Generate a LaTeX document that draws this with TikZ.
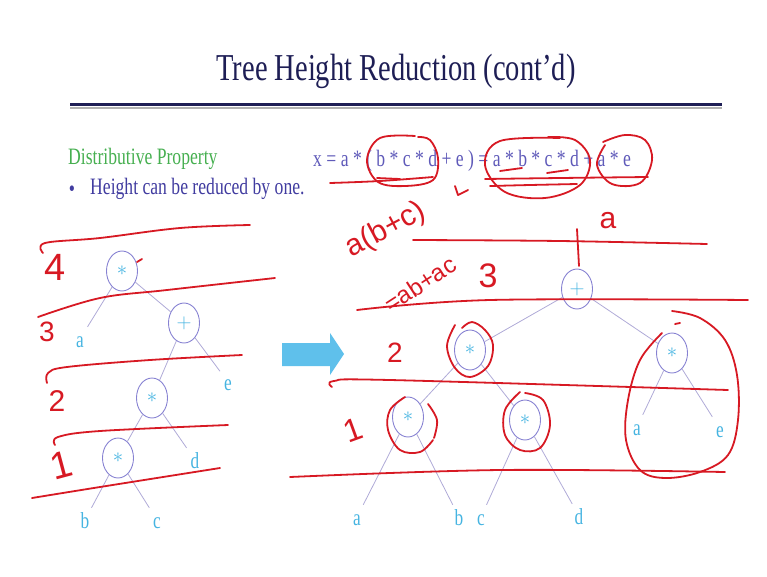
\documentclass[tikz,border=0pt]{standalone}
\usepackage{fontspec}
\setmainfont[FakeStretch=0.75]{Liberation Serif}
\newfontfamily\scrawlfont{Liberation Sans}
\usepackage{xcolor}
\usetikzlibrary{shapes.geometric, positioning, calc}

\definecolor{titlenavy}{RGB}{30,30,85}
\definecolor{slidegreen}{RGB}{70,175,80}
\definecolor{textblue}{RGB}{65,60,160}
\definecolor{eqblue}{RGB}{95,90,185}
\definecolor{leafcyan}{RGB}{70,180,225}
\definecolor{ringlav}{RGB}{135,130,210}
\definecolor{edgelav}{RGB}{175,170,215}
\definecolor{inkred}{RGB}{215,25,35}
\definecolor{arrowsky}{RGB}{95,192,235}

\begin{document}
\begin{tikzpicture}[
  x=1pt, y=-1pt,
  op/.style={ellipse, draw=ringlav, line width=0.9pt, minimum width=31pt, minimum height=40pt, inner sep=0pt, text=leafcyan, font=\fontsize{20}{20}\selectfont},
  leaf/.style={anchor=base, text=leafcyan, font=\fontsize{23}{23}\selectfont, text height=16pt, text depth=0pt, inner sep=4pt},
  edge/.style={draw=edgelav, line width=0.8pt},
  slide/.style={anchor=west, inner sep=0pt, font=\fontsize{23.5}{23.5}\selectfont},
  ink/.style={draw=inkred, line width=1.8pt, line cap=round, line join=round},
  scrawl/.style={text=inkred, inner sep=0pt, font=\scrawlfont\fontsize{32}{32}\selectfont}
]
  \useasboundingbox (0,0) rectangle (767,576);

  % Title and rule
  \node[text=titlenavy, font=\fontsize{38}{38}\selectfont] (title) at (396,71) {Tree Height Reduction (cont'd)};
  \draw[titlenavy, line width=3pt] (70,104.5) -- (722,104.5);
  \draw[black!30, line width=1.2pt] (70,108) -- (722,108);

  % Slide text
  \node[slide, text=slidegreen] (prop) at (68,159) {Distributive Property};
  \node[slide, text=textblue, anchor=center] (dot) at (72,191) {\textbullet};
  \node[slide, text=textblue] (bullet) at (90,189) {Height can be reduced by one.};
  \node[slide, text=eqblue] (eq) at (313,161) {x = a * ( b * c * d + e ) = a * b * c * d + a * e};

  % Left tree: a*(b*c*d+e)
  \node[op] (ltop) at (122,271) {$\ast$};
  \node[op] (lplus) at (184,323) {$+$};
  \node[op] (lmid) at (152,398) {$\ast$};
  \node[op] (llow) at (118,458) {$\ast$};
  \node[leaf] (la) at (80,347) {a};
  \node[leaf] (le) at (228,390) {e};
  \node[leaf] (ld) at (195,468) {d};
  \node[leaf] (lb) at (85,528) {b};
  \node[leaf] (lc) at (157,528) {c};
  \draw[edge] (ltop) -- (la);
  \draw[edge] (ltop) -- (lplus);
  \draw[edge] (lplus) -- (lmid);
  \draw[edge] (lplus) -- (le);
  \draw[edge] (lmid) -- (llow);
  \draw[edge] (lmid) -- (ld);
  \draw[edge] (llow) -- (lb);
  \draw[edge] (llow) -- (lc);

  % Block arrow
  \fill[arrowsky] (282,343) -- (330,343) -- (330,333) -- (344,354) -- (330,375) -- (330,366) -- (282,366) -- cycle;

  % Right tree: a*b*c*d + a*e
  \node[op] (rplus) at (577,289) {$+$};
  \node[op] (rl) at (470,350) {$\ast$};
  \node[op] (rr) at (672,353) {$\ast$};
  \node[op] (rll) at (408,417) {$\ast$};
  \node[op] (rlr) at (525,420) {$\ast$};
  \node[leaf] (ra) at (357,525) {a};
  \node[leaf] (rb) at (459,525) {b};
  \node[leaf] (rc) at (481,525) {c};
  \node[leaf] (rd) at (579,524) {d};
  \node[leaf] (ra2) at (637,435) {a};
  \node[leaf] (re2) at (720,437) {e};
  \draw[edge] (rplus) -- (rl);
  \draw[edge] (rplus) -- (rr);
  \draw[edge] (rl) -- (rll);
  \draw[edge] (rl) -- (rlr);
  \draw[edge] (rll) -- (ra);
  \draw[edge] (rll) -- (rb);
  \draw[edge] (rlr) -- (rc);
  \draw[edge] (rlr) -- (rd);
  \draw[edge] (rr) -- (ra2);
  \draw[edge] (rr) -- (re2);

  % Red ink: left levels
  \draw[ink] plot[smooth, tension=0.6] coordinates {(43,253) (45,243) (100,238) (180,228) (250,225)};
  \draw[ink] plot[smooth, tension=0.6] coordinates {(38,317) (100,298) (167,290) (275,278)};
  \draw[ink] plot[smooth, tension=0.6] coordinates {(47,383) (48,373) (67,367) (150,360) (242,355)};
  \draw[ink] plot[smooth, tension=0.6] coordinates {(55,445) (58,437) (100,431) (228,425)};
  \draw[ink] plot[smooth, tension=0.6] coordinates {(32,498) (100,487) (220,468)};
  \draw[ink] (137,262) -- (142,259);
  \node[scrawl, font=\scrawlfont\fontsize{38}{38}\selectfont] (lv4) at (55,267) {4};
  \node[scrawl, font=\scrawlfont\fontsize{28}{28}\selectfont] (lv3) at (47,332) {3};
  \node[scrawl, font=\scrawlfont\fontsize{30}{30}\selectfont] (lv2) at (57,401) {2};
  \node[scrawl, font=\scrawlfont\fontsize{38}{38}\selectfont, rotate=15] (lv1) at (61,465) {1};

  % Red ink: equation marks
  \draw[ink] plot[smooth, tension=0.6] coordinates {(415,136) (380,138) (367,160) (378,182) (405,186) (433,180) (438,158) (430,140) (418,137)};
  \draw[ink] plot[smooth, tension=0.6] coordinates {(330,183) (380,181) (433,177)};
  \draw[ink] (377,178) -- (400,179);
  \draw[ink] (455,186) -- (458,195) -- (468,190);
  \draw[ink] plot[smooth, tension=0.6] coordinates {(560,138) (500,141) (485,165) (505,192) (545,198) (580,185) (590,160) (575,140) (548,137)};
  \draw[ink] plot[smooth, tension=0.6] coordinates {(485,179) (560,178) (648,177)};
  \draw[ink] plot[smooth, tension=0.6] coordinates {(490,186) (530,185) (577,184)};
  \draw[ink] (500,171) -- (522,168);
  \draw[ink] (547,173) -- (568,170);
  \draw[ink] plot[smooth, tension=0.6] coordinates {(605,145) (597,165) (612,184) (640,183) (652,160) (645,140) (625,135) (603,142)};

  % Red ink: right levels and circles
  \draw[ink] plot[smooth, tension=0.6] coordinates {(413,240) (560,241) (707,244)};
  \draw[ink] (577,229) -- (579,266);
  \draw[ink] plot[smooth, tension=0.6] coordinates {(357,310) (490,300) (748,300)};
  \draw[ink] plot[smooth, tension=0.6] coordinates {(332,387) (334,381) (390,380) (728,390)};
  \draw[ink] plot[smooth, tension=0.6] coordinates {(290,477) (500,470) (725,472)};
  \draw[ink] plot[smooth, tension=0.6] coordinates {(455,325) (447,346) (455,368) (470,377) (488,366) (493,345) (485,330) (472,322) (462,328)};
  \draw[ink] plot[smooth, tension=0.6] coordinates {(405,397) (390,410) (388,430) (400,450) (420,452) (433,440)};
  \draw[ink] plot[smooth, tension=0.6] coordinates {(428,404) (437,420) (434,438)};
  \draw[ink] plot[smooth, tension=0.6] coordinates {(520,392) (505,410) (505,435) (520,450) (540,448) (550,425) (543,400) (525,393)};
  \draw[ink] plot[smooth, tension=0.6] coordinates {(662,333) (640,360) (628,400) (626,440) (640,470) (665,478) (700,472) (728,455) (738,420) (737,375) (725,340) (700,318) (672,311)};
  \draw[ink] (675,324) -- (680,323);
  \node[scrawl, font=\scrawlfont\fontsize{30}{30}\selectfont, rotate=28] (hw1) at (386,230) {a(b+c)};
  \node[scrawl, font=\scrawlfont\fontsize{24}{24}\selectfont, rotate=33] (hw2) at (420,284) {=ab+ac};
  \node[scrawl, font=\scrawlfont\fontsize{34}{34}\selectfont] (hw3) at (488,276) {3};
  \node[scrawl, font=\scrawlfont\fontsize{30}{30}\selectfont] (hwa) at (608,221) {a};
  \node[scrawl, font=\scrawlfont\fontsize{28}{28}\selectfont] (rv2) at (395,353) {2};
  \node[scrawl, font=\scrawlfont\fontsize{32}{32}\selectfont, rotate=20] (rv1) at (353,430) {1};
\end{tikzpicture}
\end{document}
